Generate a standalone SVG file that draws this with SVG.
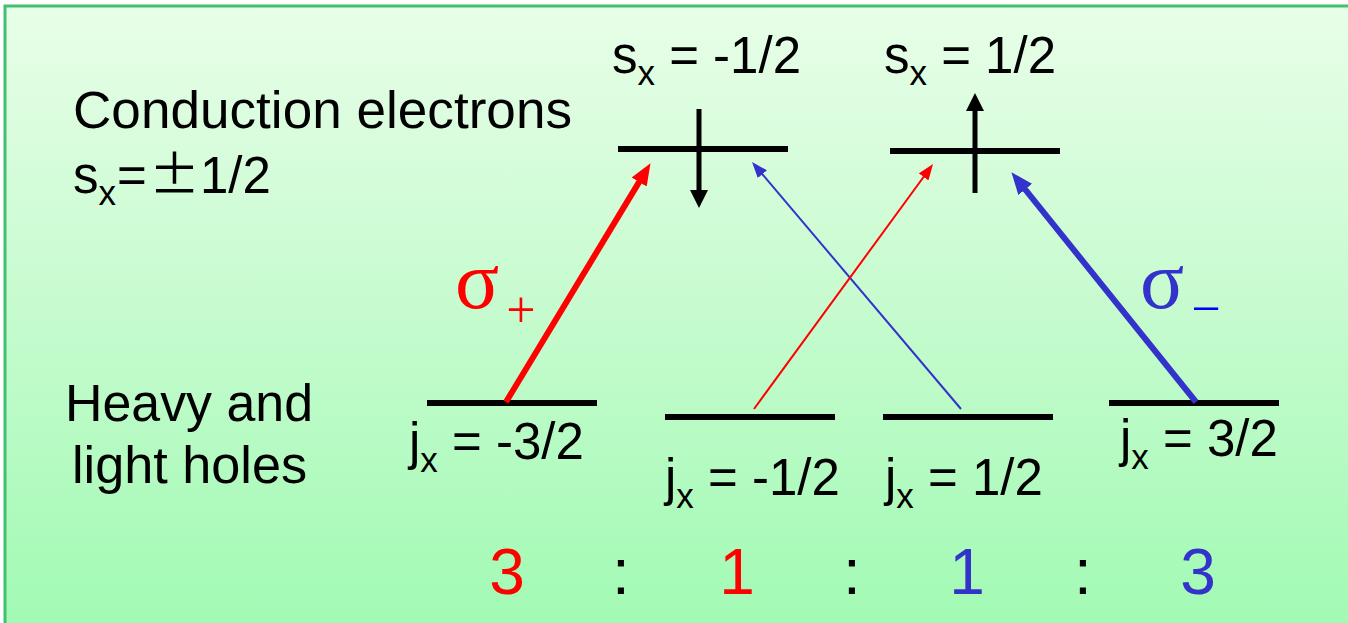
<svg xmlns="http://www.w3.org/2000/svg" width="1348" height="623" viewBox="0 0 1348 623">
<defs>
<linearGradient id="bg" x1="0" y1="0" x2="0" y2="1">
<stop offset="0" stop-color="#e8fee8"/>
<stop offset="0.5" stop-color="#c4fbcd"/>
<stop offset="1" stop-color="#9ffab2"/>
</linearGradient>
<marker id="hRedBig" markerUnits="userSpaceOnUse" markerWidth="22" markerHeight="18" viewBox="0 0 20 16" refX="10" refY="8" orient="auto"><path d="M0,0 L20,8 L0,16 z" fill="#ff0000"/></marker>
<marker id="hBlueBig" markerUnits="userSpaceOnUse" markerWidth="22" markerHeight="18" viewBox="0 0 20 16" refX="10" refY="8" orient="auto"><path d="M0,0 L20,8 L0,16 z" fill="#3333cc"/></marker>
<marker id="hRedSmall" markerUnits="userSpaceOnUse" markerWidth="16" markerHeight="12" viewBox="0 0 16 12" refX="8" refY="6" orient="auto"><path d="M0,0 L16,6 L0,12 z" fill="#ff0000"/></marker>
<marker id="hBlueSmall" markerUnits="userSpaceOnUse" markerWidth="16" markerHeight="12" viewBox="0 0 16 12" refX="8" refY="6" orient="auto"><path d="M0,0 L16,6 L0,12 z" fill="#3333cc"/></marker>
<marker id="hBlack" markerUnits="userSpaceOnUse" markerWidth="18" markerHeight="18" viewBox="0 0 18 18" refX="6" refY="9" orient="auto"><path d="M0,0 L18,9 L0,18 z" fill="#000"/></marker>
</defs>
<style>
text{font-family:"Liberation Sans",Arial,sans-serif;font-size:51px;fill:#000}
.sub{font-size:35px}
.lvl{stroke:#000;stroke-width:6;fill:none}
.spin{stroke:#000;stroke-width:5;fill:none}
.sig{font-family:"Liberation Serif","Times New Roman",serif;font-size:82px}
.ratio{font-size:64px}
.red{fill:#ff0000}
.blue{fill:#3333cc}
</style>
<rect x="5" y="6" width="1360" height="640" fill="url(#bg)" stroke="#40c070" stroke-width="3"/>

<g id="label-conduction">
<text x="73" y="128" textLength="499" lengthAdjust="spacingAndGlyphs">Conduction electrons</text>
<text x="73" y="193">s<tspan class="sub" dy="12">x</tspan><tspan x="117" dy="-12">=</tspan><tspan x="149" style="font-family:'Noto Sans CJK JP','Liberation Sans',sans-serif">±</tspan><tspan x="200">1/2</tspan></text>
</g>

<g id="label-holes">
<text x="65" y="421" textLength="248" lengthAdjust="spacingAndGlyphs">Heavy and</text>
<text x="72" y="483" textLength="235" lengthAdjust="spacingAndGlyphs">light holes</text>
</g>

<g id="cb-down">
<line class="lvl" x1="618" y1="149" x2="788" y2="149"/>
<line class="spin" x1="699" y1="109" x2="699" y2="196" marker-end="url(#hBlack)"/>
<text x="612" y="73">s<tspan class="sub" dy="12">x</tspan><tspan dy="-12"> = -1/2</tspan></text>
</g>

<g id="cb-up">
<line class="lvl" x1="890" y1="151" x2="1060" y2="151"/>
<line class="spin" x1="975" y1="193" x2="975" y2="105" marker-end="url(#hBlack)"/>
<text x="884" y="73">s<tspan class="sub" dy="12">x</tspan><tspan dy="-12"> = 1/2</tspan></text>
</g>

<g id="vb-m32">
<line class="lvl" x1="427" y1="403" x2="597" y2="403"/>
<text x="409" y="459">j<tspan class="sub" dy="13">x</tspan><tspan dy="-13"> = -3/2</tspan></text>
</g>
<g id="vb-m12">
<line class="lvl" x1="665" y1="417" x2="835" y2="417"/>
<text x="665" y="495">j<tspan class="sub" dy="13">x</tspan><tspan dy="-13"> = -1/2</tspan></text>
</g>
<g id="vb-p12">
<line class="lvl" x1="883" y1="417" x2="1053" y2="417"/>
<text x="885" y="495">j<tspan class="sub" dy="13">x</tspan><tspan dy="-13"> = 1/2</tspan></text>
</g>
<g id="vb-p32">
<line class="lvl" x1="1109" y1="403" x2="1279" y2="403"/>
<text x="1120" y="456">j<tspan class="sub" dy="13">x</tspan><tspan dy="-13"> = 3/2</tspan></text>
</g>

<g id="connectors">
<line x1="506" y1="402" x2="644.8" y2="172.6" stroke="#ff0000" stroke-width="6" marker-end="url(#hRedBig)"/>
<line x1="961" y1="409" x2="757.2" y2="168.1" stroke="#3333cc" stroke-width="2" marker-end="url(#hBlueSmall)"/>
<line x1="754" y1="409" x2="928.3" y2="170.5" stroke="#ff0000" stroke-width="2" marker-end="url(#hRedSmall)"/>
<line x1="1196" y1="402" x2="1018.3" y2="180.8" stroke="#3333cc" stroke-width="6" marker-end="url(#hBlueBig)"/>
</g>

<g id="sigma-plus">
<text class="sig red" x="455" y="308">σ</text>
<text class="sig red" x="521" y="327" text-anchor="middle" style="font-size:52px">+</text>
</g>
<g id="sigma-minus">
<text class="sig blue" x="1140" y="308">σ</text>
<text class="sig" x="1206" y="326" text-anchor="middle" style="font-size:52px;fill:#0000ff">−</text>
</g>

<g id="ratio">
<text class="ratio red" x="507" y="594" text-anchor="middle">3</text>
<text class="ratio" x="621" y="594" text-anchor="middle">:</text>
<text class="ratio red" x="737" y="594" text-anchor="middle">1</text>
<text class="ratio" x="852" y="594" text-anchor="middle">:</text>
<text class="ratio blue" x="967" y="594" text-anchor="middle">1</text>
<text class="ratio" x="1083" y="594" text-anchor="middle">:</text>
<text class="ratio blue" x="1198" y="594" text-anchor="middle">3</text>
</g>
</svg>
